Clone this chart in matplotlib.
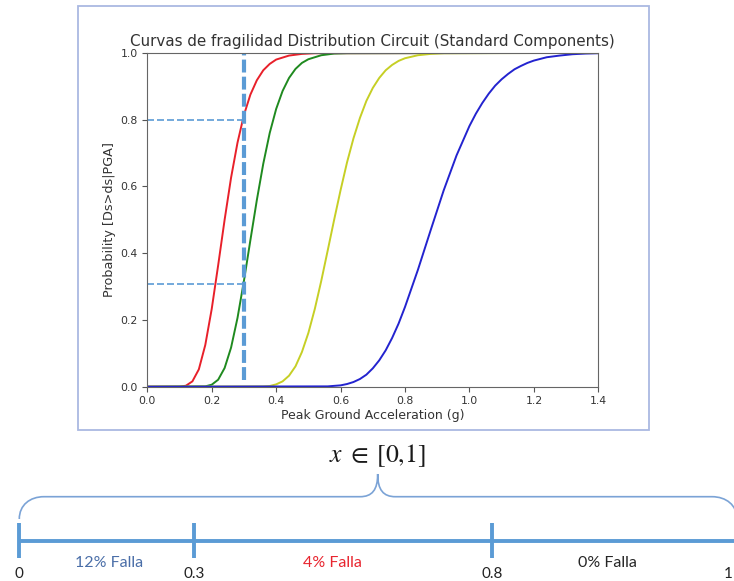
import numpy as np
import matplotlib
matplotlib.use("Agg")
import matplotlib.pyplot as plt
from matplotlib.patches import Rectangle, PathPatch
from matplotlib.path import Path
from matplotlib.scale import FuncScale

plt.rcParams['mathtext.fontset'] = 'stix'

# ---------------- data ----------------
title = "Curvas de fragilidad Distribution Circuit (Standard Components)"
xlabel = "Peak Ground Acceleration (g)"
ylabel = "Probability [Ds>ds|PGA]"

red_x = [0.0, 0.10, 0.12, 0.14, 0.16, 0.18, 0.20, 0.22, 0.24, 0.26, 0.28, 0.30,
         0.32, 0.34, 0.36, 0.38, 0.40, 0.44, 0.48, 0.52, 1.4]
red_y = [0.0, 0.000, 0.003, 0.016, 0.052, 0.125, 0.233, 0.364, 0.500, 0.626, 0.731, 0.814,
         0.875, 0.918, 0.948, 0.967, 0.980, 0.992, 0.997, 0.999, 1.0]

green_x = [0.0, 0.18, 0.20, 0.22, 0.24, 0.26, 0.28, 0.30, 0.32, 0.34, 0.36, 0.38,
           0.40, 0.42, 0.44, 0.46, 0.48, 0.50, 0.54, 0.58, 0.62, 1.4]
green_y = [0.0, 0.001, 0.006, 0.021, 0.056, 0.117, 0.206, 0.317, 0.439, 0.559, 0.668, 0.760,
           0.832, 0.886, 0.925, 0.952, 0.970, 0.981, 0.993, 0.998, 0.999, 1.0]

yellow_x = [0.0, 0.36, 0.38, 0.40, 0.42, 0.44, 0.46, 0.48, 0.50, 0.52, 0.54, 0.56,
            0.58, 0.60, 0.62, 0.64, 0.66, 0.68, 0.70, 0.72, 0.74, 0.76, 0.78, 0.80,
            0.84, 0.88, 0.92, 1.4]
yellow_y = [0.0, 0.001, 0.002, 0.007, 0.016, 0.033, 0.061, 0.104, 0.161, 0.233, 0.317, 0.408,
            0.500, 0.589, 0.672, 0.744, 0.805, 0.856, 0.895, 0.925, 0.948, 0.964, 0.976, 0.984,
            0.993, 0.997, 0.999, 1.0]

blue_x = [0.0, 0.56, 0.60, 0.62, 0.64, 0.66, 0.68, 0.70, 0.72, 0.74, 0.76, 0.78,
          0.80, 0.84, 0.88, 0.92, 0.96, 1.00, 1.02, 1.04, 1.06, 1.08, 1.10, 1.12,
          1.14, 1.16, 1.18, 1.20, 1.24, 1.28, 1.32, 1.36, 1.40]
blue_y = [0.0, 0.001, 0.004, 0.008, 0.014, 0.023, 0.036, 0.055, 0.079, 0.109, 0.146, 0.189,
          0.239, 0.350, 0.470, 0.588, 0.693, 0.781, 0.818, 0.850, 0.878, 0.902, 0.921, 0.937,
          0.951, 0.961, 0.970, 0.977, 0.987, 0.992, 0.996, 0.998, 0.999]

marker_pga = 0.3
marker_probs = [0.8, 0.307]

xticks = [0.0, 0.2, 0.4, 0.6, 0.8, 1.0, 1.2, 1.4]
yticks = [0.0, 0.2, 0.4, 0.6, 0.8, 1.0]

formula = r"$x\;\in\;[0{,}1]$"
boundaries = [0, 0.3, 0.8, 1]
boundary_labels = ["0", "0.3", "0.8", "1"]
segment_labels = ["12% Falla", "4% Falla", "0% Falla"]

# ---------------- layout / style ----------------
W, H = 734, 581
LINE_BLUE = "#5b9bd5"
seg_colors = ["#4a6ea8", "#e8252f", "#262626"]
# display position (pixels) of each boundary on the drawn number line
bound_px = [19.3, 194.0, 492.3, 737.0]
seg_label_px = [109, 332, 607]

fig = plt.figure(figsize=(W / 100, H / 100), dpi=100)

# overlay in pixel coordinates
ov = fig.add_axes([0, 0, 1, 1], zorder=0)
ov.set_xlim(0, W)
ov.set_ylim(H, 0)
ov.axis("off")
ov.add_patch(Rectangle((78.3, 5.7), 649 - 78.3, 430 - 5.7, fill=False,
                       edgecolor="#aab9e2", lw=1.3))
ov.text(377, 456, formula, fontsize=18.5, ha="center", va="center", color="#1a1a1a")

# brace
by, tipy = 496.7, 474
cx = 377.7
verts = [(bound_px[0], 519), (bound_px[0], 505), (30, by), (44, by),
         (360, by),
         (372, by), (cx, 490), (cx, tipy),
         (cx, 490), (383.4, by), (395.4, by),
         (712, by),
         (726, by), (bound_px[3], 505), (bound_px[3], 519)]
codes = [Path.MOVETO, Path.CURVE4, Path.CURVE4, Path.CURVE4,
         Path.LINETO,
         Path.CURVE4, Path.CURVE4, Path.CURVE4,
         Path.CURVE4, Path.CURVE4, Path.CURVE4,
         Path.LINETO,
         Path.CURVE4, Path.CURVE4, Path.CURVE4]
ov.add_patch(PathPatch(Path(verts, codes), fill=False, edgecolor="#7ba3d6", lw=1.2))

# ---------------- main chart ----------------
ax = fig.add_axes([147.3 / W, 1 - 386.7 / H, 451 / W, 333.8 / H], zorder=2)
ax.plot(red_x, red_y, color="#e8202a", lw=1.4)
ax.plot(green_x, green_y, color="#1f8a1f", lw=1.4)
ax.plot(yellow_x, yellow_y, color="#c6cf25", lw=1.4)
ax.plot(blue_x, blue_y, color="#2323cf", lw=1.4)

ax.plot([marker_pga, marker_pga], [0.02, 1.0], color=LINE_BLUE, lw=3.0,
        linestyle=(0, (3.1, 1.0)), solid_capstyle="butt", dash_capstyle="butt")
for p in marker_probs:
    ax.plot([0, marker_pga], [p, p], color=LINE_BLUE, lw=1.2,
            linestyle=(0, (4.2, 1.8)))

ax.set_xlim(0, 1.4)
ax.set_ylim(0, 1.0)
ax.set_xticks(xticks)
ax.set_yticks(yticks)
ax.set_xticklabels([f"{v:.1f}" for v in xticks])
ax.set_yticklabels([f"{v:.1f}" for v in yticks])
ax.tick_params(labelsize=7.8, colors="#555555", labelcolor="#333333", length=3.5)
for s in ax.spines.values():
    s.set_color("#666666")
ax.set_title(title, fontsize=10.9, color="#333333", pad=5)
ax.set_xlabel(xlabel, fontsize=9, color="#333333", labelpad=2)
ax.set_ylabel(ylabel, fontsize=9.2, color="#333333", labelpad=3)

# ---------------- number line ----------------
frac = [(p - bound_px[0]) / (bound_px[-1] - bound_px[0]) for p in bound_px]
fwd = lambda v: np.interp(v, boundaries, frac)
inv = lambda f: np.interp(f, frac, boundaries)
ax2 = fig.add_axes([bound_px[0] / W, 0, (bound_px[-1] - bound_px[0]) / W, 1 - 465 / H], zorder=1)
ax2.set_xscale(FuncScale(ax2.xaxis, (fwd, inv)))
ax2.set_xlim(boundaries[0], boundaries[-1])
ax2.set_ylim(581, 465)
ax2.axis("off")
ax2.plot([boundaries[0], boundaries[-1]], [540.7, 540.7], color=LINE_BLUE, lw=2.8,
         clip_on=False, solid_capstyle="butt")
for i, (b, lab) in enumerate(zip(boundaries, boundary_labels)):
    ax2.plot([b, b], [523, 558], color=LINE_BLUE, lw=2.8, clip_on=False,
             solid_capstyle="butt")
    last = i == len(boundaries) - 1
    if last:
        # keep the last label inside the picture, at its right edge
        fig.text(1 - 1 / W, 1 - 574 / H, lab, fontsize=11, family="Lato",
                 color="#222222", ha="right", va="center")
    else:
        ax2.text(b, 574, lab, fontsize=11, family="Lato", color="#222222",
                 ha="center", va="center", clip_on=False)
for px, lab, col in zip(seg_label_px, segment_labels, seg_colors):
    fig.text(px / W, 1 - 563 / H, lab, fontsize=11.5, family="Lato", color=col,
             ha="center", va="center")

fig.savefig("out.png", dpi=100)
